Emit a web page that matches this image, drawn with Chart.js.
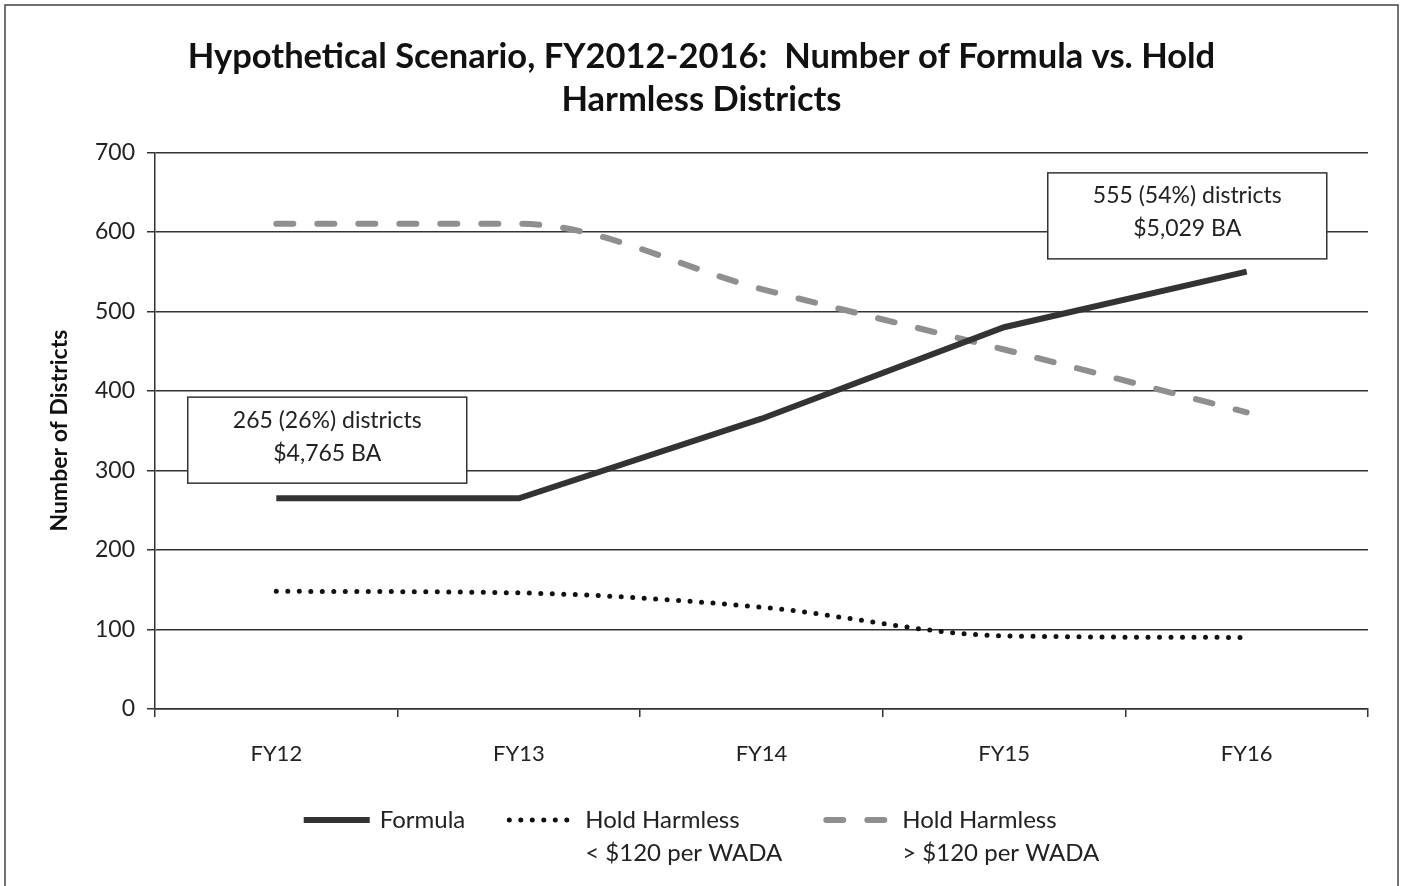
<!DOCTYPE html>
<html>
<head>
<meta charset="utf-8">
<script src="https://cdn.jsdelivr.net/npm/chart.js@4.4.1/dist/chart.umd.min.js"></script>
<style>
  body { margin: 0; background: #fff; }
  canvas { display: block; }
</style>
</head>
<body>
<canvas id="chart" width="1403" height="886"></canvas>
<script>
// values
const categories = ['FY12', 'FY13', 'FY14', 'FY15', 'FY16'];
const formula = [265, 265, 365, 480, 550];
const holdLow = [148, 146, 128, 92, 90];
const holdHigh = [610, 610, 528, 452, 373];
const yTicks = [0, 100, 200, 300, 400, 500, 600, 700];

const titleLines = ['Hypothetical Scenario, FY2012-2016:  Number of Formula vs. Hold', 'Harmless Districts'];
const legendLabels = [['Formula'], ['Hold Harmless', '< $120 per WADA'], ['Hold Harmless', '> $120 per WADA']];

// callout boxes, anchored in data space (category index, value)
const callouts = [
  { x: 0.21, y: 338, lines: ['265 (26%) districts', '$4,765 BA'] },
  { x: 3.755, y: 620, lines: ['555 (54%) districts', '$5,029 BA'] }
];

const FONT = 'Lato, "Open Sans", sans-serif';

// page frame around the whole chart
const frame = {
  id: 'frame',
  beforeDraw(chart) {
    const ctx = chart.ctx;
    ctx.save();
    ctx.fillStyle = '#fff';
    ctx.fillRect(0, 0, chart.width, chart.height);
    ctx.strokeStyle = '#444';
    ctx.lineWidth = 1.5;
    ctx.strokeRect(5, 5, chart.width - 10, chart.height + 10);
    ctx.restore();
  }
};

const calloutBoxes = {
  id: 'calloutBoxes',
  afterDatasetsDraw(chart) {
    const {ctx, scales: {x, y}} = chart;
    const step = x.getPixelForValue(1) - x.getPixelForValue(0);
    ctx.save();
    ctx.font = '23px ' + FONT;
    ctx.textAlign = 'center';
    ctx.textBaseline = 'middle';
    callouts.forEach(c => {
      const cx = x.getPixelForValue(0) + c.x * step;
      const cy = y.getPixelForValue(c.y);
      const w = 279, h = 86;
      ctx.fillStyle = '#fff';
      ctx.fillRect(cx - w / 2, cy - h / 2, w, h);
      ctx.strokeStyle = '#333';
      ctx.lineWidth = 1.5;
      ctx.strokeRect(cx - w / 2, cy - h / 2, w, h);
      ctx.fillStyle = '#222';
      ctx.fillText(c.lines[0], cx, cy - 20);
      ctx.fillText(c.lines[1], cx, cy + 13);
    });
    ctx.restore();
  }
};

// legend with two-line labels, drawn under the x axis
const bottomLegend = {
  id: 'bottomLegend',
  afterDraw(chart) {
    const ctx = chart.ctx;
    const lineLen = 66, textGap = 10, itemGap = 44;
    const y0 = 820, lh = 33;
    ctx.save();
    ctx.font = '24px ' + FONT;
    const widths = legendLabels.map(l => lineLen + textGap + Math.max(...l.map(t => ctx.measureText(t).width)));
    const total = widths.reduce((a, b) => a + b, 0) + itemGap * (widths.length - 1);
    let xPos = (chart.width - total) / 2;
    chart.data.datasets.forEach((ds, i) => {
      ctx.beginPath();
      ctx.strokeStyle = ds.borderColor;
      ctx.lineWidth = ds.borderWidth;
      ctx.lineCap = ds.borderCapStyle || 'butt';
      ctx.setLineDash(ds.borderDash || []);
      ctx.moveTo(xPos, y0);
      ctx.lineTo(xPos + lineLen, y0);
      ctx.stroke();
      ctx.setLineDash([]);
      ctx.fillStyle = '#222';
      ctx.textAlign = 'left';
      ctx.textBaseline = 'middle';
      legendLabels[i].forEach((t, k) => ctx.fillText(t, xPos + lineLen + textGap, y0 + k * lh));
      xPos += widths[i] + itemGap;
    });
    ctx.restore();
  }
};

new Chart(document.getElementById('chart'), {
  type: 'line',
  data: {
    labels: categories,
    datasets: [{
      label: 'Formula',
      data: formula,
      borderColor: '#333',
      borderWidth: 6,
      tension: 0,
      pointRadius: 0
    }, {
      label: 'Hold Harmless < $120 per WADA',
      data: holdLow,
      borderColor: '#111',
      borderWidth: 5,
      borderDash: [0, 11.5],
      borderCapStyle: 'round',
      cubicInterpolationMode: 'monotone',
      pointRadius: 0
    }, {
      label: 'Hold Harmless > $120 per WADA',
      data: holdHigh,
      borderColor: '#8f8f8f',
      borderWidth: 6,
      borderDash: [17, 24],
      borderCapStyle: 'round',
      cubicInterpolationMode: 'monotone',
      pointRadius: 0
    }]
  },
  options: {
    responsive: false,
    devicePixelRatio: 1,
    animation: false,
    layout: { padding: { left: 35, right: 35, top: 5, bottom: 117 } },
    plugins: {
      legend: { display: false },
      tooltip: { enabled: false },
      title: {
        display: true,
        text: titleLines,
        color: '#111',
        font: { family: FONT, size: 34.5, weight: 'bold', lineHeight: 1.25 },
        padding: { top: 30, bottom: 31 }
      }
    },
    scales: {
      x: {
        offset: true,
        grid: { offset: true, drawOnChartArea: false, color: '#333', lineWidth: 1.5, tickLength: 8 },
        border: { color: '#333', width: 1.5 },
        ticks: { color: '#222', padding: 24, font: { family: FONT, size: 22 } },
        afterFit(scale) { scale.height = 60; }
      },
      y: {
        min: 0,
        max: 700,
        afterBuildTicks(scale) { scale.ticks = yTicks.map(v => ({ value: v })); },
        grid: { color: '#333', lineWidth: 1.5, tickLength: 8 },
        border: { color: '#333', width: 1.5 },
        ticks: { color: '#222', padding: 12, font: { family: FONT, size: 23 } },
        title: {
          display: true,
          text: 'Number of Districts',
          color: '#111',
          font: { family: FONT, size: 23, weight: 'bold' },
          padding: { top: 11, bottom: 0 }
        },
        afterFit(scale) { scale.width = 120; }
      }
    }
  },
  plugins: [frame, calloutBoxes, bottomLegend]
});
</script>
</body>
</html>
